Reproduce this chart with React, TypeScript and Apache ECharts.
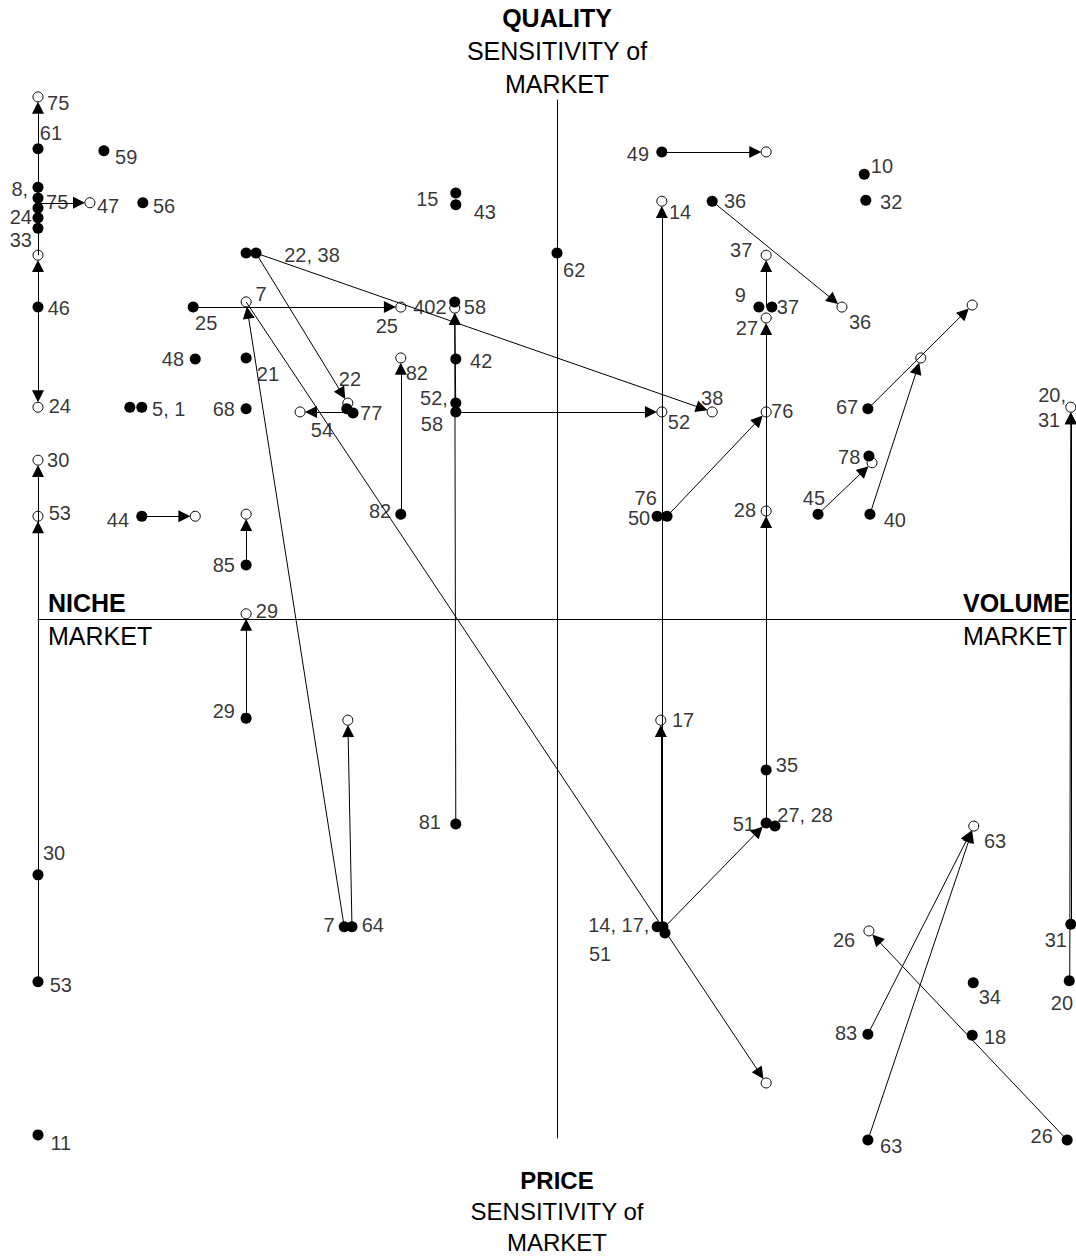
import React, { useEffect, useRef } from "react";
import * as echarts from "echarts";

const FONT = '"Liberation Sans", Arial, Helvetica, sans-serif';

// Current positions (filled dots): [id, x, y]
const filledPoints: [string, number, number][] = [
  ["61", -10, 9.06],
  ["8", -10, 8.32],
  ["75", -10, 8.11],
  ["47", -10, 7.92],
  ["24", -10, 7.73],
  ["33", -10, 7.53],
  ["46", -10, 6.01],
  ["30", -10, -4.93],
  ["53", -10, -6.99],
  ["11", -10, -9.94],
  ["59", -8.73, 9.02],
  ["56", -7.98, 8.02],
  ["25", -7.01, 6.01],
  ["48", -6.97, 5.01],
  ["5", -8.23, 4.08],
  ["1", -8.0, 4.08],
  ["44", -8.0, 1.98],
  ["68", -5.99, 4.05],
  ["21", -5.99, 5.03],
  ["22", -5.99, 7.05],
  ["38", -5.8, 7.05],
  ["77", -4.05, 4.05],
  ["77b", -3.93, 3.97],
  ["82", -3.01, 2.02],
  ["85", -5.99, 1.04],
  ["29", -5.99, -1.91],
  ["7", -4.1, -5.93],
  ["64", -3.95, -5.93],
  ["15", -1.95, 8.21],
  ["43", -1.95, 7.98],
  ["58a", -1.97, 6.11],
  ["42", -1.95, 5.01],
  ["52", -1.95, 4.16],
  ["58", -1.95, 3.99],
  ["81", -1.95, -3.95],
  ["62", 0, 7.05],
  ["49", 2.02, 9.0],
  ["36", 2.99, 8.05],
  ["10", 5.92, 8.57],
  ["32", 5.95, 8.07],
  ["9", 3.89, 6.01],
  ["37", 4.14, 6.01],
  ["67", 5.99, 4.05],
  ["78", 6.01, 3.14],
  ["45", 5.03, 2.02],
  ["40", 6.03, 2.02],
  ["50", 1.93, 1.98],
  ["76", 2.12, 1.98],
  ["35", 4.03, -2.91],
  ["51", 4.03, -3.93],
  ["27/28", 4.2, -3.99],
  ["14", 1.93, -5.93],
  ["17", 2.04, -5.93],
  ["51b", 2.08, -6.05],
  ["83", 5.99, -8.0],
  ["63", 5.99, -10.04],
  ["18", 8.0, -8.02],
  ["34", 8.02, -7.01],
  ["26", 9.83, -10.04],
  ["31", 9.9, -5.88],
  ["20", 9.87, -6.97],
];

// Target positions (open circles): [id, x, y]
const openPoints: [string, number, number][] = [
  ["75", -10, 10.06],
  ["47", -9.0, 8.02],
  ["46", -10, 7.01],
  ["24", -10, 4.08],
  ["30", -10, 3.06],
  ["53", -10, 1.98],
  ["44", -6.97, 1.98],
  ["25", -3.01, 6.01],
  ["7", -5.99, 6.11],
  ["22", -4.03, 4.16],
  ["54", -4.95, 3.99],
  ["82", -3.01, 5.03],
  ["85", -5.99, 2.02],
  ["29", -5.99, 0.1],
  ["64", -4.03, -1.95],
  ["58", -1.97, 5.99],
  ["52", 2.02, 3.99],
  ["38", 2.99, 3.99],
  ["49", 4.03, 9.0],
  ["14", 2.02, 8.05],
  ["36", 5.49, 6.01],
  ["37", 4.03, 7.01],
  ["27", 4.03, 5.8],
  ["76", 4.03, 3.99],
  ["28", 4.03, 2.08],
  ["17", 2.0, -1.95],
  ["40", 7.01, 5.03],
  ["67", 8.0, 6.05],
  ["78", 6.07, 3.01],
  ["20/31", 9.9, 4.08],
  ["63", 8.03, -3.99],
  ["26", 6.01, -6.01],
  ["7b", 4.03, -8.94],
];

// Movements: [fromX, fromY, toX, toY]
const moves: [number, number, number, number][] = [
  [-10, 7.01, -10, 10.06],
  [-10, 6.01, -10, 7.01],
  [-10, 6.01, -10, 4.08],
  [-10, 8.02, -9.0, 8.02],
  [-10, -4.93, -10, 3.06],
  [-10, -6.99, -10, 1.98],
  [-7.01, 6.01, -3.01, 6.01],
  [-8.0, 1.98, -6.97, 1.98],
  [-5.8, 7.05, -4.03, 4.16],
  [-5.8, 7.05, 2.99, 3.99],
  [-4.05, 3.99, -4.95, 3.99],
  [-3.01, 2.02, -3.01, 5.03],
  [-5.99, 1.04, -5.99, 2.02],
  [-5.99, -1.91, -5.99, 0.1],
  [-4.1, -5.93, -5.99, 6.11],
  [-3.95, -5.93, -4.03, -1.95],
  [-5.99, 6.11, 4.03, -8.94],
  [-1.95, -3.95, -1.97, 5.99],
  [-1.95, 3.99, -1.97, 5.99],
  [-1.95, 3.99, 2.02, 3.99],
  [2.02, 9.0, 4.03, 9.0],
  [2.99, 8.05, 5.49, 6.01],
  [4.03, 6.01, 4.03, 7.01],
  [4.03, -3.93, 4.03, 5.8],
  [4.03, -3.93, 4.03, 2.08],
  [2.12, 1.98, 4.03, 3.99],
  [2.02, -5.93, 2.02, 8.05],
  [2.0, -5.93, 2.0, -1.95],
  [2.08, -5.93, 4.03, -3.93],
  [5.99, 4.05, 8.0, 6.05],
  [6.03, 2.02, 7.01, 5.03],
  [5.03, 2.02, 6.07, 3.01],
  [9.88, -6.97, 9.9, 4.08],
  [9.9, -5.88, 9.9, 4.08],
  [5.99, -8.0, 8.03, -3.99],
  [5.99, -10.04, 8.03, -3.99],
  [9.83, -10.04, 6.01, -6.01],
];

// Point labels: [text, centreX, centreY]
const labels: [string, number, number][] = [
  ["75", -9.61, 9.94],
  ["61", -9.75, 9.36],
  ["59", -8.3, 8.9],
  ["8,", -10.35, 8.29],
  ["75", -9.63, 8.03],
  ["47", -8.65, 7.96],
  ["56", -7.57, 7.96],
  ["24", -10.33, 7.75],
  ["33", -10.33, 7.3],
  ["46", -9.6, 5.99],
  ["24", -9.58, 4.1],
  ["30", -9.61, 3.06],
  ["53", -9.58, 2.04],
  ["5, 1", -7.48, 4.05],
  ["68", -6.42, 4.05],
  ["44", -8.46, 1.91],
  ["85", -6.42, 1.04],
  ["29", -5.59, 0.15],
  ["29", -6.42, -1.77],
  ["30", -9.69, -4.51],
  ["53", -9.56, -7.05],
  ["11", -9.56, -10.1],
  ["25", -6.76, 5.7],
  ["7", -5.7, 6.26],
  ["22, 38", -4.72, 7.01],
  ["48", -7.4, 5.01],
  ["21", -5.57, 4.72],
  ["22", -3.99, 4.62],
  ["77", -3.58, 3.97],
  ["54", -4.53, 3.64],
  ["25", -3.28, 5.65],
  ["402", -2.45, 6.01],
  ["58", -1.58, 6.01],
  ["82", -2.7, 4.74],
  ["42", -1.46, 4.97],
  ["52,", -2.37, 4.26],
  ["58", -2.41, 3.76],
  ["82", -3.41, 2.08],
  ["15", -2.5, 8.09],
  ["43", -1.39, 7.84],
  ["62", 0.33, 6.72],
  ["81", -2.45, -3.91],
  ["7", -4.39, -5.9],
  ["64", -3.55, -5.9],
  ["14, 17,", 1.19, -5.9],
  ["51", 0.83, -6.45],
  ["49", 1.56, 8.96],
  ["14", 2.37, 7.84],
  ["36", 3.43, 8.05],
  ["10", 6.26, 8.73],
  ["32", 6.44, 8.03],
  ["37", 3.55, 7.11],
  ["9", 3.53, 6.24],
  ["37", 4.45, 6.01],
  ["36", 5.84, 5.72],
  ["27", 3.66, 5.61],
  ["76", 4.34, 4.01],
  ["67", 5.59, 4.08],
  ["78", 5.63, 3.12],
  ["45", 4.95, 2.33],
  ["40", 6.51, 1.91],
  ["76", 1.71, 2.33],
  ["50", 1.58, 1.95],
  ["52", 2.35, 3.8],
  ["38", 2.99, 4.26],
  ["28", 3.62, 2.1],
  ["20,", 9.54, 4.32],
  ["31", 9.48, 3.83],
  ["17", 2.43, -1.95],
  ["35", 4.43, -2.81],
  ["51", 3.6, -3.95],
  ["27, 28", 4.78, -3.78],
  ["63", 8.44, -4.28],
  ["26", 5.53, -6.18],
  ["31", 9.61, -6.18],
  ["34", 8.34, -7.28],
  ["20", 9.73, -7.4],
  ["83", 5.57, -7.98],
  ["18", 8.44, -8.05],
  ["26", 9.34, -9.96],
  ["63", 6.44, -10.15],
];

// Quadrant titles: [text, bold]
const topTitle: [string, boolean][] = [["QUALITY", true], ["SENSITIVITY of", false], ["MARKET", false]];
const bottomTitle: [string, boolean][] = [["PRICE", true], ["SENSITIVITY of", false], ["MARKET", false]];
const leftTitle: [string, boolean][] = [["NICHE", true], ["MARKET", false]];
const rightTitle: [string, boolean][] = [["VOLUME", true], ["MARKET", false]];

export default function App() {
  const ref = useRef<HTMLDivElement>(null);
  useEffect(() => {
    const chart = echarts.init(ref.current!, null, { renderer: "svg" });
    const SHORT = 0.21;
    const lineData = moves.map(([x1, y1, x2, y2]) => {
      const dx = x2 - x1;
      const dy = y2 - y1;
      const len = Math.hypot(dx, dy);
      return { coords: [[x1, y1], [x2 - (dx / len) * SHORT, y2 - (dy / len) * SHORT]] };
    });
    const axisCommon: any = {
      type: "value",
      min: -10,
      max: 10,
      axisTick: { show: false },
      axisLabel: { show: false },
      splitLine: { show: false },
      axisLine: { show: true, onZero: true, lineStyle: { color: "#000", width: 1 } },
    };
    const textEl = (text: string, bold: boolean, x: number, y: number, align: string, size: number) => ({
      type: "text",
      x,
      y,
      silent: true,
      style: {
        text,
        font: `${bold ? "bold " : ""}${size}px ${FONT}`,
        fill: "#000",
        textAlign: align,
        textVerticalAlign: "middle",
      },
    });
    const graphic: any[] = [];
    topTitle.forEach((t, i) => graphic.push(textEl(t[0], t[1], 557, 18 + i * 33, "center", 25)));
    bottomTitle.forEach((t, i) => graphic.push(textEl(t[0], t[1], 557, 1180 + i * 31, "center", 24)));
    leftTitle.forEach((t, i) => graphic.push(textEl(t[0], t[1], 48, 603 + i * 33, "left", 25)));
    rightTitle.forEach((t, i) => graphic.push(textEl(t[0], t[1], 963, 603 + i * 33, "left", 25)));

    chart.setOption({
      animation: false,
      backgroundColor: "#fff",
      grid: { left: 38, top: 100, width: 1038, height: 1038 },
      xAxis: axisCommon,
      yAxis: axisCommon,
      graphic,
      series: [
        {
          type: "scatter",
          z: 1,
          clip: false,
          silent: true,
          symbol: "circle",
          symbolSize: 10,
          itemStyle: { color: "#fff", borderColor: "#000", borderWidth: 1, opacity: 1 },
          data: openPoints.map((p) => ({ name: p[0], value: [p[1], p[2]] })),
        },
        {
          type: "lines",
          coordinateSystem: "cartesian2d",
          z: 2,
          clip: false,
          silent: true,
          symbol: ["none", "triangle"],
          symbolSize: 12,
          lineStyle: { color: "#000", width: 1, opacity: 1, curveness: 0 },
          itemStyle: { color: "#000" },
          data: lineData,
        },
        {
          type: "scatter",
          z: 3,
          clip: false,
          silent: true,
          symbol: "circle",
          symbolSize: 11,
          itemStyle: { color: "#000", opacity: 1 },
          data: filledPoints.map((p) => ({ name: p[0], value: [p[1], p[2]] })),
        },
        {
          type: "scatter",
          z: 4,
          clip: false,
          silent: true,
          symbolSize: 1,
          itemStyle: { color: "rgba(0,0,0,0)" },
          label: {
            show: true,
            position: "inside",
            formatter: (p: any) => p.name,
            color: "#000",
            fontSize: 20,
            fontFamily: FONT,
          },
          data: labels.map((l) => ({ name: l[0], value: [l[1], l[2]] })),
        },
      ],
    });
    return () => chart.dispose();
  }, []);
  return (
    <div
      ref={ref}
      style={{ position: "absolute", left: 0, top: 0, width: 1076, height: 1256, background: "#fff" }}
    />
  );
}
